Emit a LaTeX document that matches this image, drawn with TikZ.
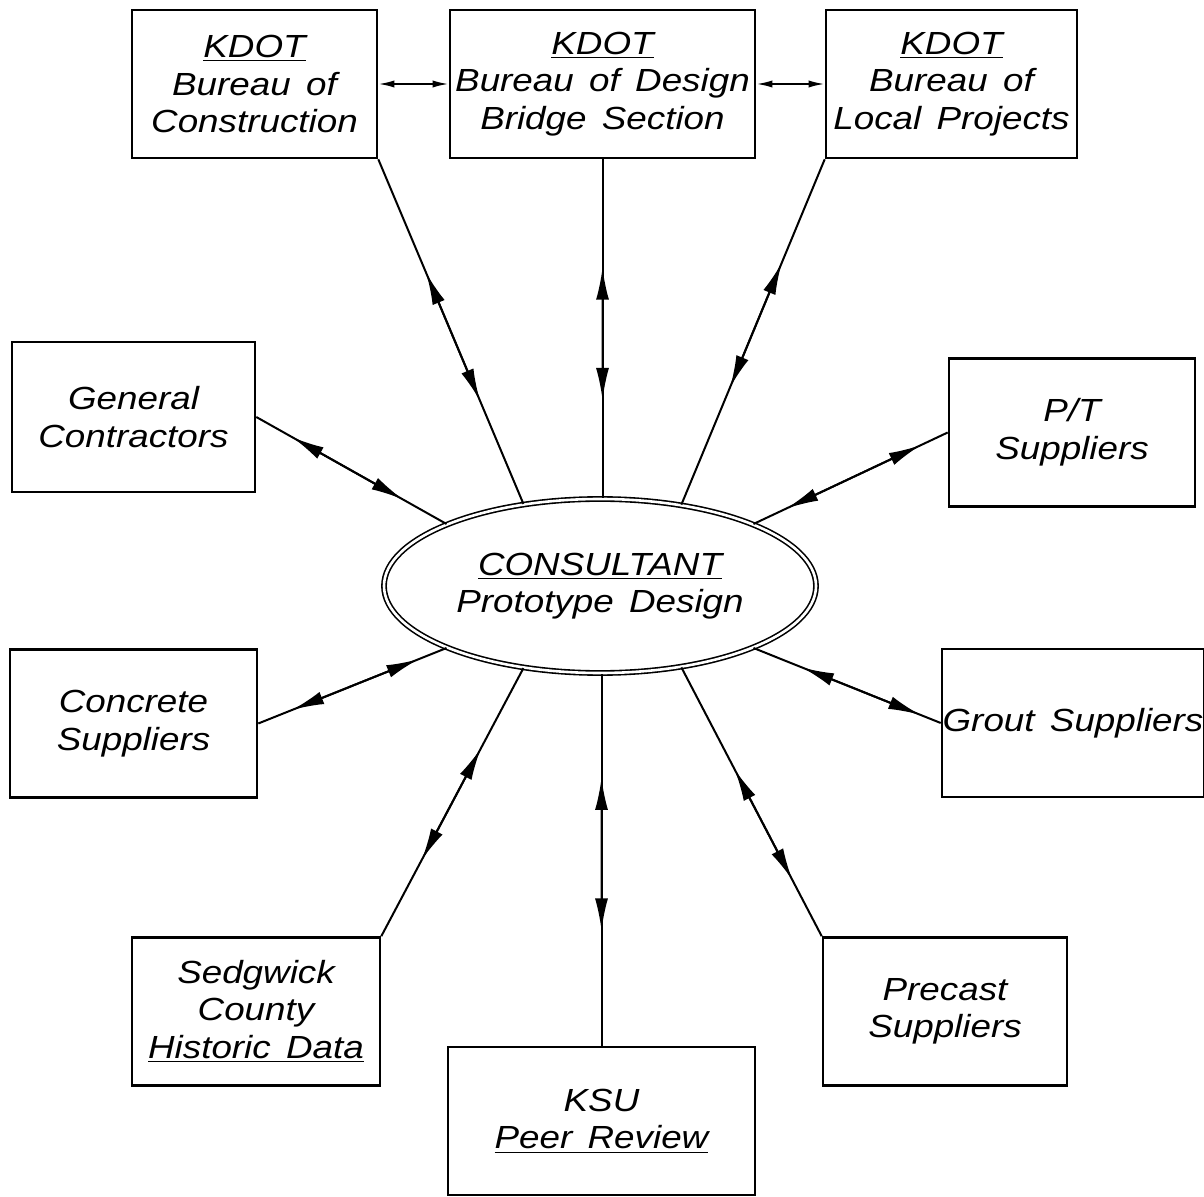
\documentclass[tikz,border=0pt]{standalone}
\usepackage{fontspec}
\newfontfamily\cadfont[FakeStretch=1.15,WordSpace=1.5]{Liberation Sans}
\usetikzlibrary{arrows.meta,shapes.geometric,calc}

\begin{document}
\begin{tikzpicture}[x=0.5pt,y=-0.5pt,font={\cadfont\itshape\fontsize{16}{18.8}\selectfont},
  box/.style={draw,line width=1.3pt,align=center,inner sep=0pt,minimum height=74pt},
  hub/.style={ellipse,draw,line width=0.8pt,double,double distance=1.3pt,inner sep=0pt,
    minimum width=216pt,minimum height=87pt,align=center},
  link/.style={line width=1pt},
  tips/.style={{Latex[length=16pt,width=6.5pt]}-{Latex[length=16pt,width=6.5pt]}},
  side/.style={{Latex[length=8pt,width=3.6pt]}-{Latex[length=8pt,width=3.6pt]}}]
  \useasboundingbox (0,0) rectangle (1204,1197);
  % centre
  \node[hub] (cons) at (600,586) {\underline{CONSULTANT}\\Prototype Design};
  % KDOT offices
  \node[box,minimum width=122.5pt] (con) at (254.5,84) {\underline{KDOT}\\Bureau of\\Construction};
  \node[box,minimum width=152.5pt] (des) at (602.5,84) {\underline{KDOT}\\Bureau of Design\\Bridge Section};
  \node[box,minimum width=125.5pt] (loc) at (951.5,84) {\underline{KDOT}\\Bureau of\\Local Projects};
  % outside parties
  \node[box,minimum width=121.5pt,minimum height=75pt] (gen) at (133.5,417) {General\\Contractors};
  \node[box,minimum width=123pt] (pt) at (1072,432.5) {P/T\\Suppliers};
  \node[box,minimum width=123.5pt] (conc) at (133.5,723.5) {Concrete\\Suppliers};
  \node[box,minimum width=131pt] (grout) at (1073,723) {Grout Suppliers};
  \node[box,minimum width=124pt] (sed) at (256,1011.5) {Sedgwick\\County\\\underline{Historic Data}};
  \node[box,minimum width=153.5pt] (ksu) at (601.5,1121) {KSU\\\underline{Peer Review}};
  \node[box,minimum width=122pt] (pre) at (945,1011.5) {Precast\\Suppliers};
  \draw[link,side] (con.east) -- (des.west);
  \draw[link,side] (des.east) -- (loc.west);
  \foreach \a/\b/\p/\q in {con.south east/cons.133/.33/.70,
      des.south/des.south |- cons.north/.32/.71,
      loc.south west/cons.45/.30/.66,
      gen.east/cons.158/.19/.77,
      pt.west/cons.22/.14/.83,
      conc.east/cons.202/.18/.85,
      grout.west/cons.338/.11/.74,
      sed.north east/cons.227/.285/.70,
      ksu.north/ksu.north |- cons.south/.31/.72,
      pre.north west/cons.315/.21/.62}
  {
    \draw[link] (\a) -- (\b);
    \draw[link,tips] ($(\a)!\p!(\b)$) -- ($(\a)!\q!(\b)$);
  }
\end{tikzpicture}
\end{document}
